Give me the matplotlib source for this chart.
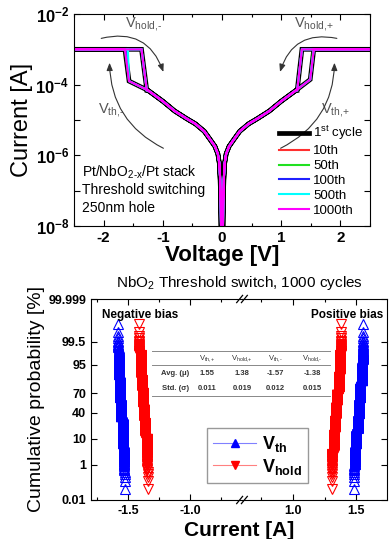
from statistics import NormalDist
import numpy as np
import matplotlib
matplotlib.use("Agg")
import matplotlib.pyplot as plt
from matplotlib.lines import Line2D
from matplotlib.ticker import FixedLocator, FixedFormatter, LogLocator, NullFormatter, MultipleLocator

plt.rcParams['font.family'] = ['Liberation Sans', 'DejaVu Sans']
plt.rcParams['mathtext.fontset'] = 'custom'
plt.rcParams['mathtext.rm'] = 'Liberation Sans'
plt.rcParams['mathtext.it'] = 'Liberation Sans:italic'
plt.rcParams['mathtext.bf'] = 'Liberation Sans:bold'

# ── Top panel data: I-V sweeps ──────────────────────────────────────────────
branch_v = [0.0, 0.02, 0.03, 0.045, 0.07, 0.12, 0.2, 0.3, 0.45, 0.6, 0.8, 1.0, 1.25]
branch_i = [1e-10, 3e-8, 2e-7, 6e-7, 1.1e-6, 1.8e-6, 2.8e-6, 4.8e-6, 7.8e-6,
            1.1e-5, 1.8e-5, 3.4e-5, 6.9e-5]
i_cc = 1e-3
th_low_pos = (1.49, 1.4e-4)
th_low_neg = (-1.57, 1.26e-4)
hold_low_pos = (1.27, 6.9e-5)
hold_low_neg = (-1.27, 6.9e-5)

cycles = [r'1$^{\rm st}$ cycle', '10th', '50th', '100th', '500th', '1000th']
cycle_colors = ['black', '#ff3030', '#20e020', '#2020ff', '#00ffff', '#ff00ff']
vth_pos = [1.55, 1.55, 1.54, 1.55, 1.55, 1.55]
vhold_pos = [1.35, 1.35, 1.35, 1.35, 1.35, 1.35]
vth_neg = [-1.64, -1.63, -1.64, -1.63, -1.59, -1.64]
vhold_neg = [-1.36, -1.36, -1.36, -1.36, -1.36, -1.36]

# ── Bottom panel data: switching voltages over 1000 cycles (level, count) ───
vth_neg_levels = [-1.525, -1.535, -1.545, -1.555, -1.565, -1.575, -1.585]
vth_neg_counts = [5, 65, 280, 300, 250, 90, 10]
vhold_neg_levels = [-1.34, -1.35, -1.36, -1.37, -1.38, -1.39, -1.40, -1.41]
vhold_neg_counts = [5, 95, 150, 200, 250, 150, 130, 20]
vhold_pos_levels = [1.31, 1.32, 1.33, 1.34, 1.35, 1.36, 1.37, 1.38]
vhold_pos_counts = [30, 100, 150, 200, 200, 200, 100, 20]
vth_pos_levels = [1.48, 1.49, 1.50, 1.51, 1.52, 1.53, 1.54, 1.55]
vth_pos_counts = [10, 60, 130, 200, 250, 200, 120, 30]

table_cols = [r'V$_{\text{th,+}}$', r'V$_{\text{hold,+}}$', r'V$_{\text{th,-}}$', r'V$_{\text{hold,-}}$']
table_avg = ['1.55', '1.38', '-1.57', '-1.38']
table_std = ['0.011', '0.019', '0.012', '0.015']
prob_ticks = [0.01, 1, 10, 40, 70, 95, 99.5, 99.999]
prob_labels = ['0.01', '1', '10', '40', '70', '95', '99.5', '99.999']

fig = plt.figure(figsize=(3.92, 5.39), dpi=100)

# ── Top panel ───────────────────────────────────────────────────────────────
ax = fig.add_axes([74/392, 1 - 226/539, 296/392, 212/539])
bv = np.array(branch_v)
bi = np.array(branch_i)
for k in range(len(cycles)):
    v = np.concatenate([bv, [th_low_pos[0], vth_pos[k], 2.5, vhold_pos[k], hold_low_pos[0]], bv[::-1],
                        -bv, [th_low_neg[0], vth_neg[k], -2.5, vhold_neg[k], hold_low_neg[0]], -bv[::-1]])
    i = np.concatenate([bi, [th_low_pos[1], i_cc, i_cc, i_cc, hold_low_pos[1]], bi[::-1],
                        bi, [th_low_neg[1], i_cc, i_cc, i_cc, hold_low_neg[1]], bi[::-1]])
    lw = 3.4 if k == 0 else 1.5
    ax.plot(v, i, color=cycle_colors[k], lw=lw, label=cycles[k], solid_joinstyle='miter')

ax.set_yscale('log')
ax.set_xlim(-2.5, 2.5)
ax.set_ylim(1e-8, 1e-2)
ax.xaxis.set_minor_locator(MultipleLocator(0.5))
ax.set_xticks([-2, -1, 0, 1, 2])
ax.set_xticklabels(['-2', '-1', '0', '1', '2'], fontweight='bold', fontsize=11)
ax.yaxis.set_major_locator(FixedLocator([1e-8, 1e-7, 1e-6, 1e-5, 1e-4, 1e-3, 1e-2]))
ax.yaxis.set_major_formatter(FixedFormatter([r'$\mathbf{10^{-8}}$', '', r'$\mathbf{10^{-6}}$', '',
                                              r'$\mathbf{10^{-4}}$', '', r'$\mathbf{10^{-2}}$']))
ax.yaxis.set_minor_locator(LogLocator(base=10, subs=np.arange(2, 10)))
ax.yaxis.set_minor_formatter(NullFormatter())
ax.tick_params(axis='y', labelsize=12)
ax.tick_params(which='both', direction='in', top=True, right=True, width=0.8)
ax.tick_params(which='major', length=4)
ax.tick_params(which='minor', length=2)
ax.set_xlabel('Voltage [V]', fontsize=16, fontweight='bold', labelpad=0)
ax.set_ylabel('Current [A]', fontsize=17, labelpad=2)

gray = '#555555'
ax.text(-1.33, 10**-2.28, r'V$_{\text{hold,-}}$', color=gray, fontsize=10.5, ha='center', va='center')
ax.text(1.55, 10**-2.28, r'V$_{\text{hold,+}}$', color=gray, fontsize=10.5, ha='center', va='center')
ax.text(-1.87, 10**-4.71, r'V$_{\text{th,-}}$', color=gray, fontsize=10.5, ha='center', va='center')
ax.text(1.92, 10**-4.71, r'V$_{\text{th,+}}$', color=gray, fontsize=10.5, ha='center', va='center')
arrow = dict(arrowstyle='-|>,head_length=0.45,head_width=0.18', color='#333333', lw=0.8,
             shrinkA=0, shrinkB=0)
ax.annotate('', xy=(-0.99, 10**-3.64), xytext=(-2.04, 10**-2.69),
            arrowprops=dict(arrow, connectionstyle='arc3,rad=-0.45'))
ax.annotate('', xy=(0.98, 10**-3.64), xytext=(1.94, 10**-2.69),
            arrowprops=dict(arrow, connectionstyle='arc3,rad=0.45'))
ax.annotate('', xy=(-1.90, 10**-3.38), xytext=(-0.99, 10**-5.80),
            arrowprops=dict(arrow, connectionstyle='arc3,rad=-0.3'))
ax.annotate('', xy=(1.90, 10**-3.38), xytext=(0.99, 10**-5.80),
            arrowprops=dict(arrow, connectionstyle='arc3,rad=0.3'))

for y, s in zip([-6.49, -6.99, -7.48], [r'Pt/NbO$_{\text{2-x}}$/Pt stack', 'Threshold switching', '250nm hole']):
    ax.text(-2.37, 10**y, s, fontsize=10, ha='left', va='center')

ax.legend(loc='lower right', bbox_to_anchor=(1.01, 0.0), frameon=False, fontsize=9.5,
          handlelength=2.3, handletextpad=0.3, labelspacing=0.2, borderaxespad=0.3)

# ── Bottom panel: normal probability plot with broken x axis ───────────────
nd = NormalDist()
to_z = np.vectorize(lambda p: nd.inv_cdf(min(max(p / 100.0, 1e-12), 1 - 1e-12)), otypes=[float])
from_z = np.vectorize(lambda z: nd.cdf(z) * 100.0, otypes=[float])

x0, xb, x1 = 91, 242, 387
yb, yt = 500, 299
rect_h = (yb - yt) / 539
ax_l = fig.add_axes([x0/392, 1 - yb/539, (xb - x0)/392, rect_h])
ax_r = fig.add_axes([xb/392, 1 - yb/539, (x1 - xb)/392, rect_h], sharey=ax_l)


def ecdf(levels, counts):
    vals = np.repeat(levels, counts)
    pct = (np.arange(1, len(vals) + 1) - 0.5) / len(vals) * 100
    return vals, pct


series = [
    (ax_l, vth_neg_levels, vth_neg_counts, '^', '#0000ff'),
    (ax_l, vhold_neg_levels, vhold_neg_counts, 'v', '#ff0000'),
    (ax_r, vhold_pos_levels, vhold_pos_counts, 'v', '#ff0000'),
    (ax_r, vth_pos_levels, vth_pos_counts, '^', '#0000ff'),
]
for a, lv, ct, mk, col in series:
    v, p = ecdf(lv, ct)
    a.plot(v, p, ls='none', marker=mk, ms=6.5, mfc='none', mec=col, mew=0.8)

ax_l.set_yscale('function', functions=(to_z, from_z))
ax_l.set_ylim(0.01, 99.999)
ax_l.set_xlim(-1.80, -0.58)
ax_r.set_xlim(0.60, 1.74)
ax_l.yaxis.set_major_locator(FixedLocator(prob_ticks))
ax_l.yaxis.set_major_formatter(FixedFormatter(prob_labels))
ax_l.yaxis.set_minor_locator(FixedLocator([]))
ax_l.set_xticks([-1.5, -1.0])
ax_l.set_xticklabels(['-1.5', '-1.0'])
ax_l.xaxis.set_minor_locator(FixedLocator([-1.75, -1.25, -0.75]))
ax_r.set_xticks([1.0, 1.5])
ax_r.set_xticklabels(['1.0', '1.5'])
ax_r.xaxis.set_minor_locator(FixedLocator([0.75, 1.25, 1.75]))
ax_l.spines['right'].set_visible(False)
ax_r.spines['left'].set_visible(False)
ax_l.tick_params(which='both', direction='in', top=True, right=False, width=0.8)
ax_r.tick_params(which='both', direction='in', top=True, left=False, right=True,
                 labelleft=False, width=0.8)
for a in (ax_l, ax_r):
    a.tick_params(which='major', length=4, labelsize=9)
    a.tick_params(which='minor', length=2)
    for lab in a.get_xticklabels() + a.get_yticklabels():
        lab.set_fontweight('bold')
ax_l.set_ylabel('Cumulative probability [%]', fontsize=14, labelpad=2)

# overlay for labels spanning the break
ov = fig.add_axes([x0/392, 1 - yb/539, (x1 - x0)/392, rect_h])
ov.set_xlim(0, 1)
ov.set_ylim(0, 1)
ov.axis('off')
bx = (xb - x0) / (x1 - x0)
for yy in (0.0, 1.0):
    for dx in (-0.008, 0.008):
        ov.plot([bx + dx - 0.01, bx + dx + 0.01], [yy - 0.018, yy + 0.018], color='black',
                lw=0.9, clip_on=False)

ov.text(0.5, 1.08, 'NbO$_2$ Threshold switch, 1000 cycles', fontsize=11, ha='center', va='center')
ov.text(0.5, -0.15, 'Current [A]', fontsize=15, fontweight='bold', ha='center', va='center')
ov.text(0.166, 0.92, 'Negative bias', fontsize=8.5, fontweight='bold', ha='center', va='center')
ov.text(0.865, 0.92, 'Positive bias', fontsize=8.5, fontweight='bold', ha='center', va='center')

tcol = '#333333'
for yy in (0.741, 0.672, 0.517):
    ov.plot([0.206, 0.807], [yy, yy], color='#888888', lw=0.7)
col_x = [0.392, 0.510, 0.622, 0.747]
for cx, h, a_, s_ in zip(col_x, table_cols, table_avg, table_std):
    ov.text(cx, 0.703, h, fontsize=5.5, ha='center', va='center', color=tcol)
    ov.text(cx, 0.627, a_, fontsize=5.5, fontweight='bold', ha='center', va='center', color=tcol)
    ov.text(cx, 0.557, s_, fontsize=5.5, fontweight='bold', ha='center', va='center', color=tcol)
ov.text(0.284, 0.627, 'Avg. (μ)', fontsize=5.5, fontweight='bold', ha='center', va='center', color=tcol)
ov.text(0.284, 0.557, 'Std. (σ)', fontsize=5.5, fontweight='bold', ha='center', va='center', color=tcol)

handles = [Line2D([], [], color='#8080ff', lw=0.8, marker='^', ms=6, mfc='#0000ff', mec='#0000ff'),
           Line2D([], [], color='#ff8080', lw=0.8, marker='v', ms=6, mfc='#ff0000', mec='#ff0000')]
ov.legend(handles, [r'$\mathbf{V_{th}}$', r'$\mathbf{V_{hold}}$'], loc='lower left',
          bbox_to_anchor=(0.36, 0.04), fontsize=13, frameon=True, fancybox=False,
          edgecolor='#999999', framealpha=1, handlelength=2.4, handletextpad=0.3,
          labelspacing=0.15, borderpad=0.35)

fig.savefig('out.png', dpi=100)
